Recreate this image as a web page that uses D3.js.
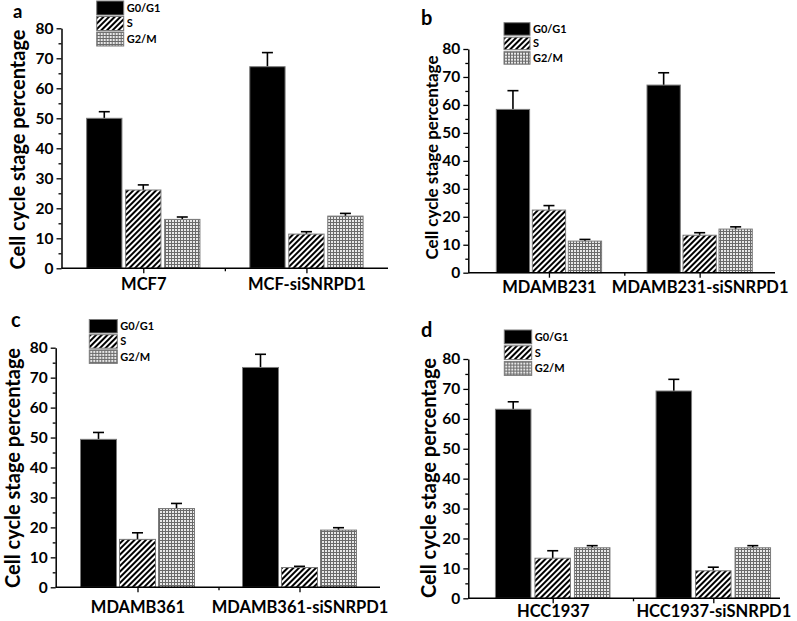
<!DOCTYPE html>
<html>
<head>
<meta charset="utf-8">
<script src="https://cdn.jsdelivr.net/npm/d3@7"></script>
<style>
  html, body { margin: 0; padding: 0; background: #fff; }
  svg { display: block; }
  text { font-family: Lato, "Open Sans", sans-serif; font-weight: bold; fill: #000; }
</style>
</head>
<body>
<svg id="chart" width="797" height="621"></svg>
<script>
// ---------- data ----------
const series = ["G0/G1", "S", "G2/M"];
const yTicks = [0, 10, 20, 30, 40, 50, 60, 70, 80];
const yTitle = "Cell cycle stage percentage";

const catsA = ["MCF7", "MCF-siSNRPD1"];
const g0A = [50.0, 67.2], sA = [26.1, 11.4], g2mA = [16.3, 17.4];
const g0ErrA = [2.2, 4.7], sErrA = [1.7, 0.8], g2mErrA = [0.8, 0.9];

const catsB = ["MDAMB231", "MDAMB231-siSNRPD1"];
const g0B = [58.4, 67.1], sB = [22.4, 13.4], g2mB = [11.3, 15.6];
const g0ErrB = [6.7, 4.4], sErrB = [1.6, 0.9], g2mErrB = [0.6, 0.8];

const catsC = ["MDAMB361", "MDAMB361-siSNRPD1"];
const g0C = [49.4, 73.4], sC = [16.0, 6.6], g2mC = [26.3, 19.1];
const g0ErrC = [2.3, 4.4], sErrC = [2.2, 0.4], g2mErrC = [1.7, 0.8];

const catsD = ["HCC1937", "HCC1937-siSNRPD1"];
const g0D = [63.2, 69.3], sD = [13.4, 9.2], g2mD = [16.9, 16.9];
const g0ErrD = [2.5, 3.9], sErrD = [2.5, 1.2], g2mErrD = [0.7, 0.7];

// ---------- layout ----------
const panels = [
  { letter: "a", cats: catsA, vals: [g0A, sA, g2mA], errs: [g0ErrA, sErrA, g2mErrA],
    axisX: 61.5, rx: [61.7, 388], lineEnd: 388, y0: 268.3, y80: 28.3, barW: 35.3, step: 39, xPad: 5,
    title: { x: 25, y: 149.5, size: 20 }, lab: { x: 13, y: 18, size: 18.5 },
    leg: { x: 96.7, y: 1, w: 27, h: 14, step: 15.5 } },
  { letter: "b", cats: catsB, vals: [g0B, sB, g2mB], errs: [g0ErrB, sErrB, g2mErrB],
    axisX: 468.3, rx: [473.6, 775], lineEnd: 775, y0: 272.7, y80: 49, barW: 33.3, step: 36, xPad: 4,
    title: { x: 438, y: 157.5, size: 17 }, lab: { x: 421, y: 25, size: 20 },
    leg: { x: 504, y: 22.7, w: 26, h: 12.5, step: 14.5 } },
  { letter: "c", cats: catsC, vals: [g0C, sC, g2mC], errs: [g0ErrC, sErrC, g2mErrC],
    axisX: 55.7, rx: [56.5, 380.5], lineEnd: 380, y0: 587.3, y80: 347.7, barW: 36, step: 39, xPad: 9,
    title: { x: 20, y: 468, size: 20 }, lab: { x: 11, y: 327, size: 20 },
    leg: { x: 89.3, y: 319.5, w: 28, h: 13.5, step: 15.2 } },
  { letter: "d", cats: catsD, vals: [g0D, sD, g2mD], errs: [g0ErrD, sErrD, g2mErrD],
    axisX: 468.3, rx: [472.4, 793.6], lineEnd: 780, y0: 598.3, y80: 359, barW: 35.5, step: 39.5, xPad: 2,
    title: { x: 436, y: 478, size: 20 }, lab: { x: 421, y: 337, size: 20 },
    leg: { x: 504.3, y: 330, w: 27.4, h: 13.8, step: 15.8 } }
];

const svg = d3.select("#chart");
const defs = svg.append("defs");

// diagonal hatch for S
const hatch = defs.append("pattern").attr("id", "hatch")
  .attr("patternUnits", "userSpaceOnUse").attr("width", 4).attr("height", 4)
  .attr("patternTransform", "rotate(45)");
hatch.append("rect").attr("width", 4).attr("height", 4).attr("fill", "#fff");
hatch.append("line").attr("x1", 1).attr("y1", 0).attr("x2", 1).attr("y2", 4)
  .attr("stroke", "#000").attr("stroke-width", 2);

// grid for G2/M
const grid = defs.append("pattern").attr("id", "grid")
  .attr("patternUnits", "userSpaceOnUse").attr("width", 3).attr("height", 3);
grid.append("rect").attr("width", 3).attr("height", 3).attr("fill", "#e8e8e8");
grid.append("path").attr("d", "M0,0.5H3M0.5,0V3").attr("stroke", "#6a6a6a").attr("stroke-width", 1).attr("fill", "none");

const fills = ["#000", "url(#hatch)", "url(#grid)"];

panels.forEach(p => {
  const g = svg.append("g");
  const x = d3.scaleLinear().domain([0.5, 2.5]).range(p.rx);
  const y = d3.scaleLinear().domain([0, 80]).range([p.y0, p.y80]);

  const rows = [];
  p.cats.forEach((c, ci) => {
    series.forEach((s, si) => {
      rows.push({ ci, si, v: p.vals[si][ci], e: p.errs[si][ci] });
    });
  });
  const cx = d => x(d.ci + 1) + (d.si - 1) * p.step;

  // error bars (upper only)
  const eb = g.append("g").attr("stroke", "#000").attr("stroke-width", 1.6);
  eb.selectAll("line.v").data(rows).join("line").attr("class", "v")
    .attr("x1", cx).attr("x2", cx)
    .attr("y1", d => y(d.v)).attr("y2", d => y(d.v + d.e));
  eb.selectAll("line.c").data(rows).join("line").attr("class", "c")
    .attr("x1", d => cx(d) - 5.5).attr("x2", d => cx(d) + 5.5)
    .attr("y1", d => y(d.v + d.e)).attr("y2", d => y(d.v + d.e));

  g.append("g").selectAll("rect").data(rows).join("rect")
    .attr("x", d => cx(d) - p.barW / 2)
    .attr("width", p.barW)
    .attr("y", d => y(d.v))
    .attr("height", d => y(0) - y(d.v))
    .attr("fill", d => fills[d.si])
    .attr("stroke", "#7a7a7a").attr("stroke-width", 1);

  // y axis
  const ya = g.append("g").attr("transform", `translate(${p.axisX},0)`)
    .call(d3.axisLeft(y).tickValues(yTicks).tickSize(5).tickPadding(3).tickSizeOuter(0));
  g.append("g").attr("transform", `translate(${p.axisX},0)`)
    .call(d3.axisLeft(y).tickValues(d3.range(5, 80, 10)).tickSize(3).tickFormat("").tickSizeOuter(0))
    .select(".domain").remove();
  ya.selectAll("text").style("font-size", "15.5px");

  // x axis
  const xa = g.append("g").attr("transform", `translate(0,${p.y0})`)
    .call(d3.axisBottom(x).tickValues([1, 2]).tickFormat((d, i) => p.cats[i])
      .tickSize(5).tickPadding(p.xPad).tickSizeOuter(0));
  xa.select(".domain").remove();
  xa.selectAll("text").style("font-size", "16.5px");
  g.append("g").attr("transform", `translate(0,${p.y0})`)
    .call(d3.axisBottom(x).tickValues([1.5]).tickSize(3).tickFormat("").tickSizeOuter(0))
    .select(".domain").remove();
  g.append("line").attr("x1", p.axisX).attr("x2", p.lineEnd)
    .attr("y1", p.y0).attr("y2", p.y0).attr("stroke", "#000").attr("stroke-width", 1.5);
  g.selectAll(".tick line").attr("stroke-width", 1.3);
  ya.select(".domain").attr("stroke-width", 1.5);

  // y title
  g.append("text")
    .attr("transform", `translate(${p.title.x},${p.title.y}) rotate(-90)`)
    .attr("text-anchor", "middle")
    .style("font-size", p.title.size + "px")
    .text(yTitle);

  // panel letter
  g.append("text").attr("x", p.lab.x).attr("y", p.lab.y)
    .style("font-size", p.lab.size + "px").text(p.letter);

  // legend
  const lg = g.append("g").attr("transform", `translate(${p.leg.x},${p.leg.y})`);
  const items = lg.selectAll("g").data(series).join("g")
    .attr("transform", (d, i) => `translate(0,${i * p.leg.step})`);
  items.append("rect").attr("width", p.leg.w).attr("height", p.leg.h)
    .attr("fill", (d, i) => fills[i]).attr("stroke", "#7a7a7a").attr("stroke-width", 1);
  items.append("text").attr("x", p.leg.w + 3).attr("y", p.leg.h / 2)
    .attr("dy", "0.36em").style("font-size", "11px").text(d => d);
});
</script>
</body>
</html>
